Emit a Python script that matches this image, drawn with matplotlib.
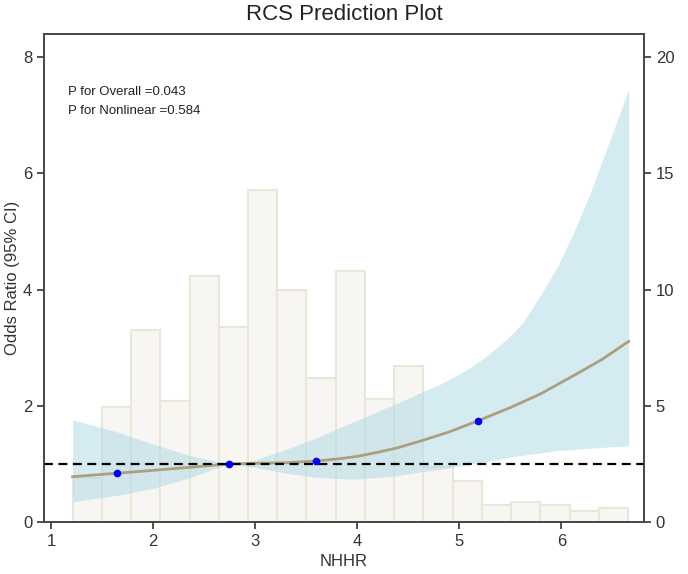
import numpy as np
import matplotlib
matplotlib.use('Agg')
import matplotlib.pyplot as plt

plt.rcParams['font.family'] = ['Liberation Sans', 'DejaVu Sans']

# Histogram of NHHR (right axis)
bin_start = 1.21
bin_width = 0.2865
hist_counts = [1.88, 4.94, 8.25, 5.2, 10.6, 8.4, 14.3, 10.0, 6.2, 10.8,
               5.3, 6.72, 2.35, 1.77, 0.73, 0.88, 0.73, 0.49, 0.62]

# RCS curve and 95% CI (left axis)
curve_x = [1.21, 1.65, 2.0, 2.35, 2.74, 3.0, 3.3, 3.6, 3.83, 4.0, 4.2, 4.4,
           4.65, 4.9, 5.18, 5.5, 5.79, 6.12, 6.4, 6.66]
curve_or = [0.78, 0.84, 0.89, 0.94, 1.0, 1.01, 1.02, 1.05, 1.09, 1.13, 1.2,
            1.28, 1.41, 1.55, 1.74, 1.97, 2.2, 2.52, 2.8, 3.11]

ci_x = [1.21, 1.65, 2.0, 2.35, 2.74, 3.0, 3.3, 3.6, 3.9, 4.0, 4.3, 4.4,
        4.65, 4.81, 5.0, 5.1, 5.3, 5.5, 5.63, 5.8, 5.96, 6.12, 6.28, 6.45,
        6.66]
ci_lower = [0.35, 0.46, 0.58, 0.76, 1.0, 0.94, 0.84, 0.77, 0.74, 0.74, 0.78,
            0.8, 0.87, 0.91, 0.96, 0.99, 1.05, 1.12, 1.15, 1.19, 1.23, 1.25,
            1.27, 1.29, 1.31]
ci_upper = [1.76, 1.55, 1.34, 1.15, 1.0, 1.07, 1.25, 1.45, 1.68, 1.75, 1.98,
            2.05, 2.25, 2.37, 2.55, 2.65, 2.9, 3.2, 3.45, 3.92, 4.39, 4.98,
            5.65, 6.45, 7.45]

# highlighted points
pt_x = [1.647, 2.745, 3.595, 5.18]
pt_or = [0.842, 1.0, 1.048, 1.735]

fig = plt.figure(figsize=(6.88, 5.74), dpi=100)
ax = fig.add_axes([0.064, 0.0906, 0.872, 0.850])
ax2 = ax.twinx()

# histogram behind
lefts = bin_start + bin_width * np.arange(len(hist_counts))
ax2.bar(lefts, hist_counts, width=bin_width, align='edge',
        facecolor='#f7f6f2', edgecolor='#e9e7d8', linewidth=1.5)
ax2.set_ylim(0, 21)
ax2.set_yticks([0, 5, 10, 15, 20])

ax.set_zorder(ax2.get_zorder() + 1)
ax.patch.set_visible(False)

ax.fill_between(ci_x, ci_lower, ci_upper, color='#add8e6', alpha=0.5, linewidth=0)
ax.plot(curve_x, curve_or, color='#ac9f7c', linewidth=2)
ax.axhline(1, color='black', linewidth=1.6, linestyle=(0, (4, 2.5)))
ax.plot(pt_x, pt_or, 'o', color='blue', markersize=4.5)

ax.set_xlim(0.93, 6.81)
ax.set_ylim(0, 8.4)
ax.set_xticks([1, 2, 3, 4, 5, 6])
ax.set_yticks([0, 2, 4, 6, 8])

ax.text(0.04, 0.881, 'P for Overall =0.043', transform=ax.transAxes,
        fontsize=9.5, va='center', color='#222222')
ax.text(0.04, 0.842, 'P for Nonlinear =0.584', transform=ax.transAxes,
        fontsize=9.5, va='center', color='#222222')

ax.set_title('RCS Prediction Plot', fontsize=16, pad=10, color='#222222')
ax.set_xlabel('NHHR', fontsize=12, color='#333333')
ax.set_ylabel('Odds Ratio (95% CI)', fontsize=12, color='#333333', labelpad=2)

for a in (ax, ax2):
    for s in a.spines.values():
        s.set_color('#444444')
        s.set_linewidth(1.2)
    a.tick_params(labelsize=12, length=5, width=1.2, colors='#333333')

plt.savefig('out.png', dpi=100)
